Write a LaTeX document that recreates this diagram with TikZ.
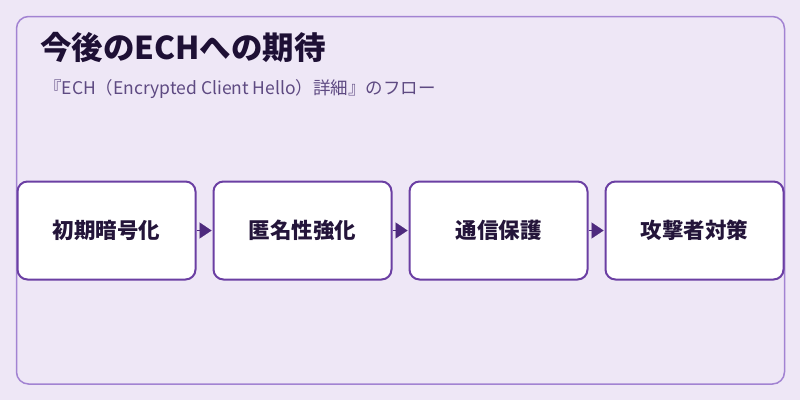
\documentclass[tikz,border=0pt]{standalone}
\usepackage{fontspec}
\setmainfont{Noto Sans CJK JP}
\usetikzlibrary{arrows.meta}
\definecolor{bgcol}{HTML}{EEE7F6}
\definecolor{outerline}{HTML}{A283D2}
\definecolor{boxline}{HTML}{6B3FA3}
\definecolor{arrowcol}{HTML}{4E2A7E}
\definecolor{titlecol}{HTML}{1E1035}
\definecolor{subcol}{HTML}{5E4A82}
\definecolor{textcol}{HTML}{24153A}
\tikzset{
  stepbox/.style={draw=boxline, line width=2pt, fill=white, rounded corners=10pt,
    minimum width=178pt, minimum height=98pt, inner sep=0pt,
    font=\fontsize{21.5}{26}\selectfont\bfseries, text=textcol},
  flowarrow/.style={-{Triangle[length=12pt,width=16pt]}, draw=arrowcol, fill=arrowcol, line width=0.1pt, shorten >=1pt},
}
\begin{document}
\begin{tikzpicture}[x=1pt,y=-1pt]
\useasboundingbox (0,0) rectangle (800,400);
\fill[bgcol] (0,0) rectangle (800,400);
\draw[outerline, line width=1.5pt, rounded corners=12pt] (16.5,16.5) rectangle (784.5,384);
\node[anchor=west, font=\fontsize{31.5}{36}\selectfont\bfseries, text=titlecol, inner sep=0pt] (title) at (40,47) {今後のECHへの期待};
\node[anchor=west, font=\fontsize{17.5}{21}\selectfont, text=subcol, inner sep=0pt] (sub) at (44,89) {『ECH（Encrypted Client Hello）詳細』のフロー};
\node[stepbox] (b1) at (106.5,230.5) {初期暗号化};
\node[stepbox] (b2) at (302.5,230.5) {匿名性強化};
\node[stepbox] (b3) at (498.5,230.5) {通信保護};
\node[stepbox] (b4) at (694.5,230.5) {攻撃者対策};
\draw[flowarrow] (b1.east) -- (b2.west);
\draw[flowarrow] (b2.east) -- (b3.west);
\draw[flowarrow] (b3.east) -- (b4.west);
\end{tikzpicture}
\end{document}
